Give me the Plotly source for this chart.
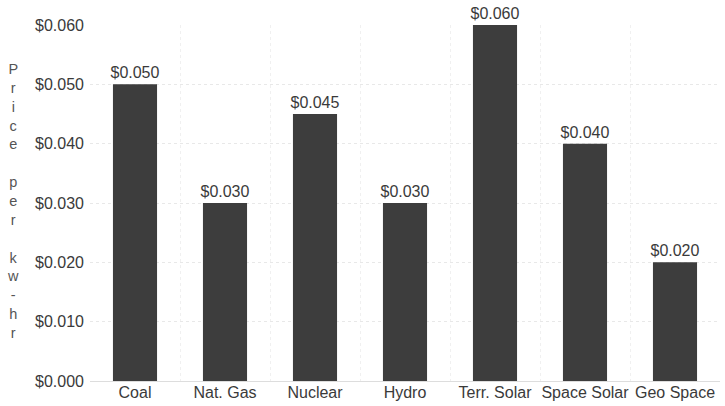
import plotly.graph_objects as go

# Cost of electricity by generation source
sources = ["Coal", "Nat. Gas", "Nuclear", "Hydro", "Terr. Solar", "Space Solar", "Geo Space"]
price_per_kwh = [0.050, 0.030, 0.045, 0.030, 0.060, 0.040, 0.020]
y_ticks = [0.000, 0.010, 0.020, 0.030, 0.040, 0.050, 0.060]
axis_title = "Price per kw-hr"

FONT = "Liberation Sans, Arial, sans-serif"
TEXT_COLOR = "#3a3a3a"

fig = go.Figure(
    go.Bar(
        x=sources,
        y=price_per_kwh,
        marker=dict(color="#3d3d3d", line=dict(width=0)),
        text=[f"${v:.3f}" for v in price_per_kwh],
        textposition="outside",
        constraintext="none",
        textfont=dict(family=FONT, size=16, color=TEXT_COLOR),
        cliponaxis=False,
    )
)

# Vertical, letter-by-letter axis title
stacked = "<br>".join(" " if ch == " " else ch for ch in axis_title)
fig.add_annotation(
    text=stacked,
    xref="paper", yref="paper",
    x=-0.122, y=0.505,
    xanchor="center", yanchor="middle",
    showarrow=False,
    align="center",
    font=dict(family=FONT, size=14.5, color="#555555"),
)

fig.update_layout(
    width=725,
    height=406,
    margin=dict(l=90, r=5, t=25, b=25, autoexpand=False),
    paper_bgcolor="white",
    plot_bgcolor="white",
    bargap=0.51,
    showlegend=False,
    font=dict(family=FONT, size=16, color=TEXT_COLOR),
)

fig.update_xaxes(
    tickson="boundaries",
    tickangle=0,
    automargin=False,
    showgrid=True,
    gridcolor="#f0f0f0",
    griddash="dot",
    ticks="",
    showline=False,
    tickfont=dict(family=FONT, size=16, color=TEXT_COLOR),
)

fig.update_yaxes(
    range=[0, 0.060],
    automargin=False,
    tickvals=y_ticks,
    ticktext=[f"${v:.3f}" for v in y_ticks],
    showgrid=True,
    gridcolor="#e8e8e8",
    griddash="dot",
    zeroline=True,
    zerolinecolor="#dddddd",
    zerolinewidth=1,
    ticks="",
    ticklabelstandoff=5,
    tickfont=dict(family=FONT, size=16, color=TEXT_COLOR),
)

fig.write_html("out.html")
